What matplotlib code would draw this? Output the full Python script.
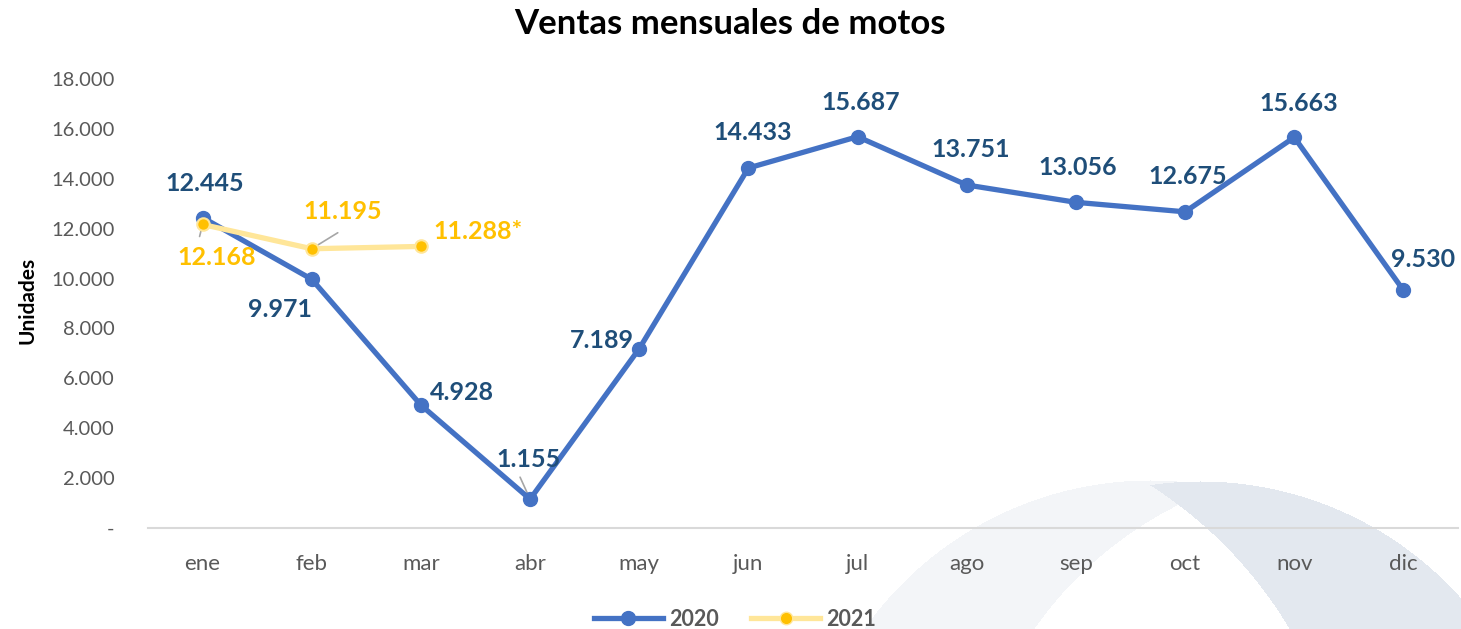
import numpy as np
import matplotlib
matplotlib.use("Agg")
import matplotlib.pyplot as plt
from matplotlib.lines import Line2D
from matplotlib.colors import to_rgba

plt.rcParams['font.family'] = ['Lato', 'DejaVu Sans']

months = ['ene', 'feb', 'mar', 'abr', 'may', 'jun', 'jul', 'ago', 'sep', 'oct', 'nov', 'dic']
ventas_2020 = [12445, 9971, 4928, 1155, 7189, 14433, 15687, 13751, 13056, 12675, 15663, 9530]
ventas_2021 = [12168, 11195, 11288]
labels_2021 = ['12.168', '11.195', '11.288*']
yticks = [0, 2000, 4000, 6000, 8000, 10000, 12000, 14000, 16000, 18000]

# label offsets in pixels (dx, dy) relative to each point
off_2020 = [(2, 34), (-32, -30), (41, 13), (-2, 40), (-37, 8), (4, 35), (3, 34),
            (4, 35), (2, 35), (3, 35), (4, 34), (20, 31)]
off_2021 = [(14, -33), (31, 37), (57, 15)]

def fmt(v):
    return f"{v:,}".replace(",", ".")

W, H = 1461, 629
fig = plt.figure(figsize=(W / 100, H / 100), dpi=100)

# background watermark: two crescents, rasterized (pixel coords, y from top)
yy, xx = np.mgrid[0:H, 0:W]
def inside(cx, cy, r):
    return (xx - cx) ** 2 + (yy - cy) ** 2 <= r ** 2

bg = np.zeros((H, W, 4))
light = inside(1150, 830, 350) & ~inside(1350, 850, 386)
dark = inside(1200, 830, 349) & ~inside(917, 850, 433)
bg[light] = to_rgba('#f3f5f8')
bg[dark] = to_rgba('#e3e8ef')
fig.figimage(bg, 0, 0, origin='upper', zorder=-1)

ax = fig.add_axes([148 / W, 1 - 528 / H, (1458 - 148) / W, (528 - 79) / H])
ax.set_facecolor('none')
x = np.arange(len(months))

ax.plot(x, ventas_2020, color='#4472C4', lw=3.8, marker='o', ms=10, zorder=3)
ax.plot(x[:len(ventas_2021)], ventas_2021, color='#FFE699', lw=3.8, marker='o', ms=9,
        markerfacecolor='#FFC000', markeredgecolor='#FFE699', markeredgewidth=1.5, zorder=4)

for i, v in enumerate(ventas_2020):
    dx, dy = off_2020[i]
    ax.annotate(fmt(v), (x[i], v), xytext=(dx, dy), textcoords='offset pixels',
                ha='center', va='center', fontsize=18, fontweight='bold', color='#1F4E79', zorder=5)
for i, v in enumerate(ventas_2021):
    dx, dy = off_2021[i]
    ax.annotate(labels_2021[i], (x[i], v), xytext=(dx, dy), textcoords='offset pixels',
                ha='center', va='center', fontsize=18, fontweight='bold', color='#FFC000', zorder=5)

# leader lines
ax.annotate('', (x[3], ventas_2020[3]), xytext=(-10, 22), textcoords='offset pixels',
            arrowprops=dict(arrowstyle='-', color='#a6a6a6', lw=1.2, shrinkA=0, shrinkB=0), zorder=2)
ax.annotate('', (x[0], ventas_2021[0]), xytext=(-3, -12), textcoords='offset pixels',
            arrowprops=dict(arrowstyle='-', color='#a6a6a6', lw=1.2, shrinkA=0, shrinkB=0), zorder=2)
ax.annotate('', (x[1], ventas_2021[1]), xytext=(26, 16), textcoords='offset pixels',
            arrowprops=dict(arrowstyle='-', color='#a6a6a6', lw=1.2, shrinkA=0, shrinkB=0), zorder=2)

ax.set_xlim(-0.5, len(months) - 0.5)
ax.set_ylim(0, 18000)
ax.set_xticks(x)
ax.set_xticklabels(months)
ax.set_yticks(yticks)
ax.set_yticklabels(['-' if t == 0 else fmt(t) for t in yticks])
ax.tick_params(axis='both', length=0, colors='#595959')
ax.tick_params(axis='x', pad=19, labelsize=16)
ax.tick_params(axis='y', pad=24, labelsize=14.5)
for s in ['top', 'right', 'left']:
    ax.spines[s].set_visible(False)
ax.spines['bottom'].set_color('#d9d9d9')
ax.spines['bottom'].set_linewidth(1.5)

fig.text(28 / W, 1 - 300 / H, 'Unidades', rotation=90, ha='center', va='center',
         fontsize=15, fontweight='bold', color='black')
fig.text(730 / W, 1 - 24 / H, 'Ventas mensuales de motos', ha='center', va='center',
         fontsize=25, fontweight='bold', color='black')

handles = [Line2D([], [], color='#4472C4', lw=3.8, marker='o', ms=10),
           Line2D([], [], color='#FFE699', lw=3.8, marker='o', ms=9,
                  markerfacecolor='#FFC000', markeredgecolor='#FFE699')]
leg = fig.legend(handles, ['2020', '2021'], loc='center', bbox_to_anchor=(735 / W, 1 - 619 / H),
                 ncol=2, frameon=False, handlelength=3.2, columnspacing=1.5, handletextpad=0.3,
                 prop={'size': 15.5, 'weight': 'bold'})
for t in leg.get_texts():
    t.set_color('#595959')

fig.savefig('out.png', dpi=100)
